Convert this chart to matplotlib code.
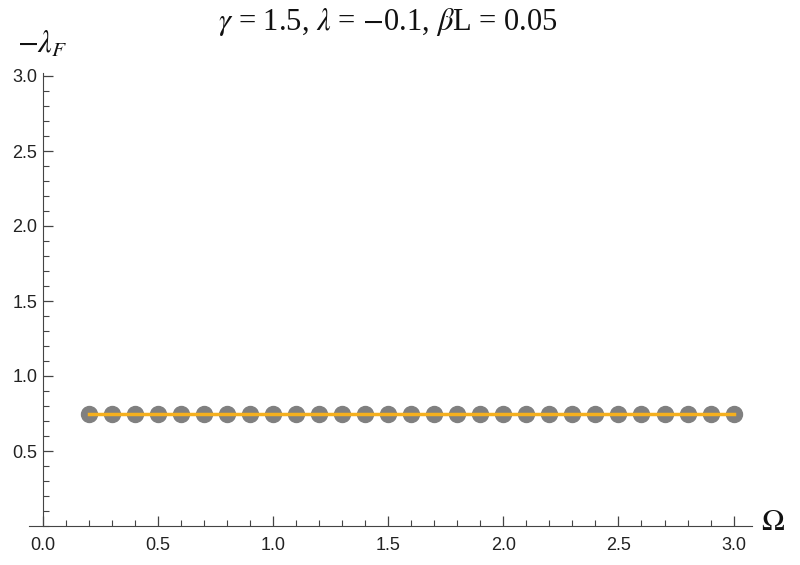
import matplotlib
matplotlib.use('Agg')
import matplotlib.pyplot as plt
import numpy as np
from matplotlib.ticker import MultipleLocator

# data
omega = [0.2, 0.3, 0.4, 0.5, 0.6, 0.7, 0.8, 0.9, 1.0, 1.1, 1.2, 1.3, 1.4, 1.5,
         1.6, 1.7, 1.8, 1.9, 2.0, 2.1, 2.2, 2.3, 2.4, 2.5, 2.6, 2.7, 2.8, 2.9, 3.0]
lam_f = [0.75] * len(omega)
line_x = [0.2, 3.0]
line_y = [0.75, 0.75]

plt.rcParams['mathtext.fontset'] = 'stix'
plt.rcParams['font.family'] = 'Liberation Sans'

fig = plt.figure(figsize=(8, 5.65), dpi=100)
ax = fig.add_axes([29/800, 1 - 526/565, (752 - 29)/800, (526 - 73)/565])

ax.plot(omega, lam_f, 'o', color='#808080', markersize=11.5, zorder=2)
ax.plot(line_x, line_y, color='#F5B01E', linewidth=2.5, zorder=3)

ax.set_xlim(-0.06, 3.08)
ax.set_ylim(0, 3.02)
for s in ['top', 'right']:
    ax.spines[s].set_visible(False)
ax.spines['left'].set_position(('data', 0))
ax.spines['left'].set_color('#444444')
ax.spines['bottom'].set_color('#444444')

ax.xaxis.set_major_locator(MultipleLocator(0.5))
ax.xaxis.set_minor_locator(MultipleLocator(0.1))
ax.set_yticks([0.5, 1.0, 1.5, 2.0, 2.5, 3.0])
ax.yaxis.set_minor_locator(MultipleLocator(0.1))
ax.tick_params(which='major', direction='in', length=7, width=0.9, color='#444444',
               labelsize=13, labelcolor='#222222', pad=8)
ax.tick_params(which='minor', direction='in', length=4, width=0.8, color='#444444')
ax.tick_params(axis='y', pad=4)

fig.text(388/800, 1 - 22/565, r'$\gamma$ = 1.5, $\lambda$ = $-$0.1, $\beta$L = 0.05',
         ha='center', va='center', fontsize=22, color='#111111',
         family='Liberation Serif')
fig.text(42/800, 1 - 45/565, r'$-\lambda_F$', ha='center', va='center',
         fontsize=22, color='#111111')
fig.text(773/800, 1 - 522/565, r'$\Omega$', ha='center', va='center',
         fontsize=22, color='#111111')

fig.savefig('out.png', dpi=100)
